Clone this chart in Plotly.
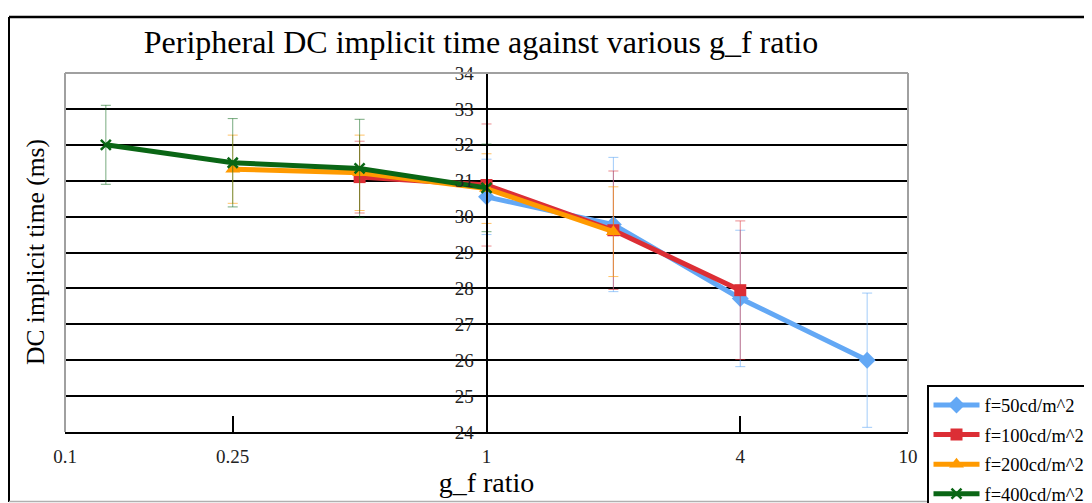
import plotly.graph_objects as go

# ---- data ----
series_names = ["f=50cd/m^2", "f=100cd/m^2", "f=200cd/m^2", "f=400cd/m^2"]

x_50 = [1, 2, 4, 8]
y_50 = [30.55, 29.78, 27.72, 26.0]
e_50 = [1.05, 1.87, 1.9, 1.87]

x_100 = [0.5, 1, 2, 4]
y_100 = [31.1, 30.88, 29.62, 27.95]
e_100 = [1.0, 1.7, 1.65, 1.93]

x_200 = [0.25, 0.5, 1, 2]
y_200 = [31.32, 31.22, 30.78, 29.58]
e_200 = [0.95, 1.05, 0.97, 1.25]

x_400 = [0.125, 0.25, 0.5, 1]
y_400 = [32.0, 31.5, 31.34, 30.8]
e_400 = [1.1, 1.23, 1.37, 1.22]

x_tickvals = [0.1, 0.25, 1, 4, 10]
x_ticktext = ["0.1", "0.25", "1", "4", "10"]
y_tickvals = list(range(24, 35))

FONT = "Liberation Serif"

styles = [
    dict(color="#63A8F5", err="rgba(99,168,245,0.6)", symbol="diamond", size=13, lw=0),
    dict(color="#DC2E35", err="rgba(220,46,53,0.55)", symbol="square", size=12, lw=0),
    dict(color="#FF9A00", err="rgba(255,154,0,0.6)", symbol="triangle-up", size=13, lw=0),
    dict(color="#0A6615", err="rgba(10,102,21,0.55)", symbol="x-thin", size=10, lw=2.5),
]

data = [(x_50, y_50, e_50), (x_100, y_100, e_100), (x_200, y_200, e_200), (x_400, y_400, e_400)]

fig = go.Figure()
for i, (name, (xs, ys, es), st) in enumerate(zip(series_names, data, styles)):
    fig.add_trace(go.Scatter(
        x=xs, y=ys, name=name, mode="lines+markers", legendgroup="g%d" % i,
        line=dict(color=st["color"], width=5),
        marker=dict(symbol=st["symbol"], size=st["size"], color=st["color"],
                    line=dict(color=st["color"], width=st["lw"])),
        error_y=dict(type="data", array=es, visible=True, color=st["err"],
                     thickness=1, width=5),
    ))

# page has an 8px body margin: work in reference pixels, shifted by OFF
OFF = 8
W, H = 1100, 503 - OFF
PL, PR, PT, PB = 65, 908, 73, 432          # plot area in reference pixels
L, T = PL - OFF, PT - OFF
R, B = W - (PR - OFF), H - (PB - OFF)
pw, ph = PR - PL, PB - PT

def px(x):
    return (x - PL) / pw

def py(y):
    return (PB - y) / ph

shapes = [
    # plot frame (gray) left, top, right
    dict(type="line", xref="paper", yref="paper", x0=0, x1=0, y0=0, y1=1,
         line=dict(color="#A0A0A0", width=2)),
    dict(type="line", xref="paper", yref="paper", x0=0, x1=1, y0=1, y1=1,
         line=dict(color="#A0A0A0", width=2)),
    dict(type="line", xref="paper", yref="paper", x0=1, x1=1, y0=0, y1=1,
         line=dict(color="#A0A0A0", width=2)),
    # outer chart frame
    dict(type="line", xref="paper", yref="paper", x0=px(9), x1=px(1100), y0=py(17), y1=py(17),
         line=dict(color="black", width=2.5)),
    dict(type="line", xref="paper", yref="paper", x0=px(9), x1=px(9), y0=py(17), y1=py(502),
         line=dict(color="black", width=2)),
    dict(type="line", xref="paper", yref="paper", x0=px(9), x1=px(1100), y0=py(501.5), y1=py(501.5),
         line=dict(color="#B0B0B0", width=1.5)),
]

fig.update_layout(
    width=W, height=H,
    margin=dict(l=L, r=R, t=T, b=B, autoexpand=False),
    paper_bgcolor="white", plot_bgcolor="white",
    font=dict(family=FONT, color="black", size=18),
    title=dict(text="Peripheral DC implicit time against various g_f ratio",
               x=(481 - OFF) / W, xanchor="center", y=1 - (42 - OFF) / H, yanchor="middle",
               font=dict(family=FONT, size=32, color="black")),
    xaxis=dict(type="log", range=[-1, 1], tickvals=x_tickvals, ticktext=x_ticktext,
               showgrid=False, zeroline=False, showline=True, linecolor="black", linewidth=2,
               ticks="inside", ticklen=16, tickwidth=2, tickcolor="black",
               ticklabelstandoff=6,
               tickfont=dict(family=FONT, size=19, color="#222222"),
               title=dict(text="g_f ratio", font=dict(family=FONT, size=28), standoff=0)),
    yaxis=dict(range=[24, 34], tickvals=y_tickvals, anchor="free", position=0.5,
               showgrid=True, gridcolor="black", gridwidth=1.5, zeroline=False,
               showline=True, linecolor="black", linewidth=2, ticks="",
               ticklabelstandoff=8,
               tickfont=dict(family=FONT, size=19, color="#222222")),
    legend=dict(x=px(927), y=py(385), xanchor="left", yanchor="top",
                bordercolor="black", borderwidth=1.5, bgcolor="white",
                font=dict(family=FONT, size=18.5), itemwidth=46, tracegroupgap=2.5),
    shapes=shapes,
    annotations=[dict(text="DC implicit time (ms)", xref="paper", yref="paper",
                      x=px(35), y=py(252), textangle=-90, showarrow=False,
                      xanchor="center", yanchor="middle",
                      font=dict(family=FONT, size=25.5, color="black"))],
    showlegend=True,
)

fig.write_html("out.html")
